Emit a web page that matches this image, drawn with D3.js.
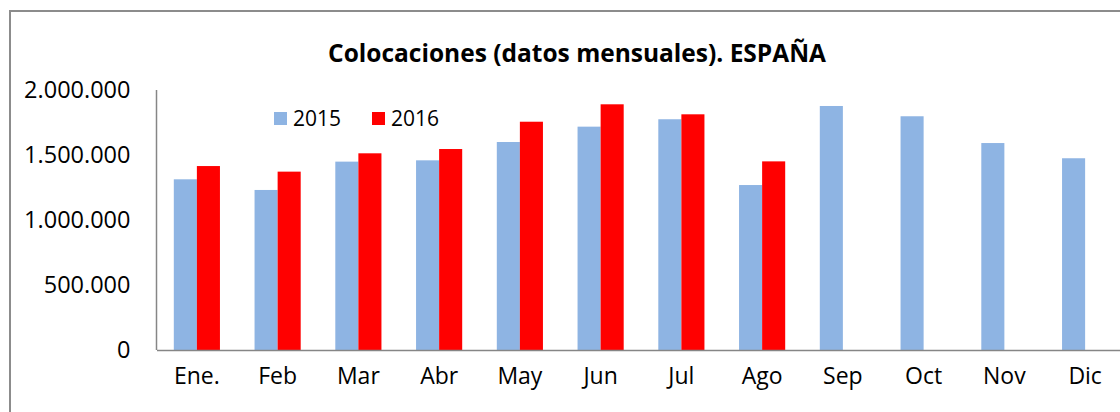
<!DOCTYPE html>
<html>
<head>
<meta charset="utf-8">
<script src="https://cdn.jsdelivr.net/npm/d3@7"></script>
<style>
    body { margin: 0; background: #fff; }
    svg text { font-family: "Open Sans", sans-serif; fill: #000; }
    .axis path { stroke: #868686; stroke-width: 1.5px; }
    .axis .tick line { display: none; }
</style>
</head>
<body>
<script>
// Data
const months = ['Ene.', 'Feb', 'Mar', 'Abr', 'May', 'Jun', 'Jul', 'Ago', 'Sep', 'Oct', 'Nov', 'Dic'];
const values2015 = [1313000, 1231000, 1449000, 1459000, 1600000, 1718000, 1775000, 1269000, 1877000, 1798000, 1592000, 1475000];
const values2016 = [1415000, 1372000, 1513000, 1546000, 1756000, 1890000, 1813000, 1451000, null, null, null, null];
const yTicks = [0, 500000, 1000000, 1500000, 2000000];
const seriesNames = ['2015', '2016'];
const colors = ['#8EB4E3', '#FF0000'];

const width = 1120, height = 412;
const margin = {top: 90, left: 156.5, bottom: 62};
const plotRight = 1125.5;

const svg = d3.select("body").append("svg")
    .attr("width", width)
    .attr("height", height);

// chart frame
svg.append("rect")
    .attr("x", 10)
    .attr("y", 11)
    .attr("width", width + 20)
    .attr("height", height + 20)
    .attr("fill", "none")
    .attr("stroke", "#8c8c8c")
    .attr("stroke-width", 2);

svg.append("text")
    .attr("x", 577)
    .attr("y", 62)
    .style("text-anchor", "middle")
    .style("font-weight", "bold")
    .style("font-size", "24.5px")
    .text("Colocaciones (datos mensuales). ESPAÑA");

const x = d3.scaleBand()
    .range([margin.left, plotRight])
    .domain(months);

const x1 = d3.scaleBand()
    .domain([0, 1])
    .range([0, x.bandwidth()])
    .paddingOuter(0.75);

const y = d3.scaleLinear()
    .domain([0, 2000000])
    .range([height - margin.bottom, margin.top]);

const fmt = v => d3.format(",")(v).replace(/,/g, ".");

// bars
const groups = svg.selectAll(".month")
    .data(months)
    .enter()
    .append("g")
    .attr("class", "month")
    .attr("transform", d => "translate(" + x(d) + ",0)");

[values2015, values2016].forEach(function(vals, s) {
    groups.filter((d, i) => vals[i] != null)
        .append("rect")
        .attr("x", x1(s))
        .attr("width", x1.bandwidth())
        .attr("y", (d) => y(vals[months.indexOf(d)]))
        .attr("height", (d) => y(0) - y(vals[months.indexOf(d)]))
        .attr("fill", colors[s]);
});

const yAxis = d3.axisLeft(y)
    .tickValues(yTicks)
    .tickFormat(fmt)
    .tickSize(0)
    .tickPadding(26);

svg.append("g")
    .attr("class", "y axis")
    .attr("transform", "translate(" + margin.left + ",0)")
    .call(yAxis)
    .call(g => g.select(".domain").attr("d", "M0," + y(2000000) + "V" + y(0)))
    .selectAll("text")
    .style("font-size", "23.5px");

const xAxis = d3.axisBottom(x)
    .tickSize(0)
    .tickPadding(18);

svg.append("g")
    .attr("class", "x axis")
    .attr("transform", "translate(0," + y(0) + ")")
    .call(xAxis)
    .selectAll("text")
    .style("font-size", "23px");

// legend
const legendX = [274, 372];
const legend = svg.selectAll(".legend")
    .data(seriesNames)
    .enter()
    .append("g")
    .attr("class", "legend")
    .attr("transform", (d, i) => "translate(" + legendX[i] + ",112)");
legend.append("rect")
    .attr("width", 13)
    .attr("height", 13)
    .attr("fill", (d, i) => colors[i]);
legend.append("text")
    .attr("x", 19)
    .attr("y", 13.5)
    .style("font-size", "21px")
    .text(d => d);
</script>
</body>
</html>
